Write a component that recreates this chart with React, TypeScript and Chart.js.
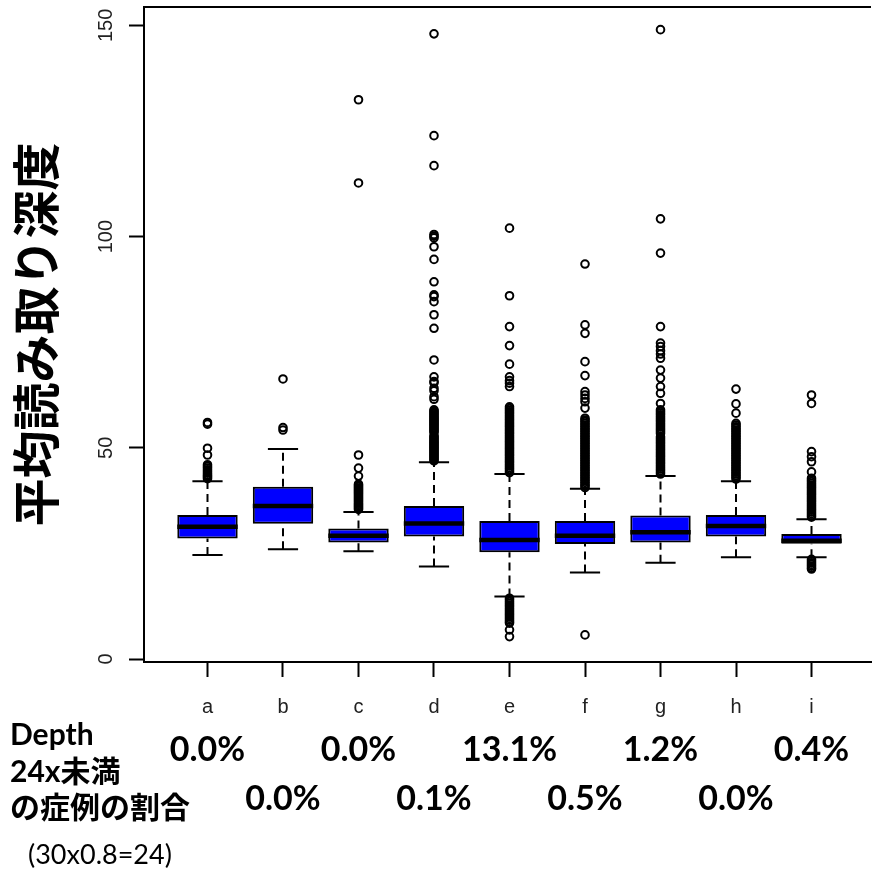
import React, { useEffect, useRef } from 'react';
import { Chart, registerables } from 'chart.js';

Chart.register(...registerables);

const categories = ['a', 'b', 'c', 'd', 'e', 'f', 'g', 'h', 'i'];
const whiskerLow = [24.6, 26.0, 25.5, 21.9, 14.8, 20.5, 22.8, 24.1, 24.1];
const q1 = [28.5, 32.0, 27.6, 29.0, 25.3, 27.2, 27.6, 29.0, 27.3];
const median = [31.3, 36.2, 29.2, 32.1, 28.2, 29.2, 30.0, 31.5, 28.0];
const q3 = [34.1, 40.8, 30.9, 36.2, 32.7, 32.7, 34.0, 34.1, 29.6];
const whiskerHigh = [42.1, 49.7, 34.8, 46.6, 43.8, 40.3, 43.3, 42.1, 33.1];

const outliersA = [56.0, 55.6, 49.9, 48.3, 46.0, 45.6, 45.2, 44.8, 44.4, 44.0, 43.6, 43.3, 43.0, 42.7];
const outliersB = [66.3, 54.8, 54.2];
const outliersC = [132.4, 112.7, 48.3, 45.2, 43.3, 41.4, 41.1, 40.8, 40.5, 40.2, 39.9, 39.6, 39.3, 39.0, 38.7, 38.4, 38.1, 37.8, 37.5, 37.2, 36.9, 36.6, 36.3, 36.0, 35.7, 35.4];
const outliersD = [148.0, 123.9, 116.8, 100.5, 100.1, 99.7, 97.6, 94.6, 89.3, 86.2, 85.8, 84.6, 81.5, 78.3, 70.8, 66.8, 65.7, 65.4, 64.1, 63.5, 62.1, 61.5, 59.0, 58.7, 58.4, 58.1, 57.8, 57.5, 57.2, 56.9, 56.6, 56.3, 56.0, 55.7, 55.4, 55.1, 54.8, 54.5, 54.2, 53.9, 53.6, 52.9, 52.6, 52.3, 52.0, 51.7, 51.4, 51.1, 50.8, 50.5, 50.2, 49.9, 49.6, 49.3, 49.0, 48.7, 48.4, 48.1, 47.8, 47.5, 47.2, 46.9];
const outliersE = [102.0, 86.0, 78.7, 74.2, 69.8, 66.8, 65.9, 65.3, 64.5, 59.7, 59.3, 58.9, 58.5, 58.1, 57.7, 57.3, 56.9, 56.5, 56.1, 55.7, 55.3, 54.9, 54.5, 54.1, 53.7, 53.3, 52.9, 52.5, 52.1, 51.7, 51.3, 50.9, 50.5, 50.1, 49.7, 49.3, 48.9, 48.5, 48.1, 47.7, 47.3, 46.9, 46.5, 46.1, 45.7, 45.3, 44.9, 44.5, 44.1, 14.4, 14.0, 13.6, 13.2, 12.8, 12.4, 12.0, 11.6, 11.2, 10.8, 10.4, 10.0, 9.6, 9.2, 8.8, 8.5, 6.9, 5.3];
const outliersF = [93.5, 79.1, 77.1, 70.4, 67.1, 63.3, 62.5, 61.7, 60.9, 59.4, 57.0, 56.6, 56.2, 55.8, 55.4, 55.0, 54.6, 54.2, 53.8, 53.4, 53.0, 52.6, 52.2, 51.8, 51.4, 51.0, 50.6, 50.2, 49.8, 49.4, 49.0, 48.6, 48.2, 47.8, 47.4, 47.0, 46.6, 46.2, 45.8, 45.4, 45.0, 44.6, 44.2, 43.8, 43.4, 43.0, 42.6, 42.2, 41.8, 41.4, 41.0, 40.6, 5.7];
const outliersG = [149.0, 104.2, 96.1, 78.7, 74.8, 74.0, 73.0, 72.2, 71.2, 68.4, 66.5, 64.5, 62.9, 60.5, 59.0, 58.6, 58.2, 57.8, 57.4, 57.0, 56.6, 56.2, 55.8, 55.4, 55.0, 54.6, 54.2, 53.8, 53.4, 52.6, 52.2, 51.8, 51.4, 51.0, 50.6, 50.2, 49.8, 49.4, 49.0, 48.6, 48.2, 47.8, 47.4, 47.0, 46.6, 46.2, 45.8, 45.4, 45.0, 44.6, 44.2, 43.8];
const outliersH = [63.9, 60.4, 58.2, 55.8, 55.4, 55.0, 54.6, 54.2, 53.8, 53.4, 53.0, 52.6, 52.2, 51.8, 51.4, 51.0, 50.6, 50.2, 49.8, 49.4, 49.0, 48.6, 48.2, 47.8, 47.4, 47.0, 46.6, 46.2, 45.8, 45.4, 45.0, 44.6, 44.2, 43.8, 43.4, 43.0, 42.6];
const outliersI = [62.5, 60.5, 49.1, 47.9, 46.7, 44.3, 42.8, 42.4, 42.0, 41.6, 41.2, 40.8, 40.4, 40.0, 39.6, 39.2, 38.8, 38.4, 38.0, 37.6, 37.2, 36.8, 36.4, 36.0, 35.6, 35.2, 34.8, 34.4, 34.0, 33.6, 23.6, 23.2, 22.8, 22.4, 22.0, 21.6, 21.3];

const yTicks = [0, 50, 100, 150];
const pctBelow24x = ['0.0%', '0.0%', '0.0%', '0.1%', '13.1%', '0.5%', '1.2%', '0.0%', '0.4%'];
const yTitle = '平均読み取り深度';
const noteLines = ['Depth', '24x未満', 'の症例の割合'];
const noteSub = '(30x0.8=24)';

export default function App() {
  const ref = useRef<HTMLCanvasElement>(null);

  useEffect(() => {
    const canvas = ref.current;
    if (!canvas) return;
    const outlierSets = [outliersA, outliersB, outliersC, outliersD, outliersE, outliersF, outliersG, outliersH, outliersI];
    const boxData = categories.map((_, i) => ({ x: i + 1, y: [q1[i], q3[i]] }));
    const pts: { x: number; y: number }[] = [];
    outlierSets.forEach((arr, i) => arr.forEach((v) => pts.push({ x: i + 1, y: v })));

    const decor = {
      id: 'boxDecor',
      beforeDatasetsDraw(chart: any) {
        const { ctx } = chart;
        const xs = chart.scales.x;
        const ys = chart.scales.y;
        ctx.save();
        ctx.strokeStyle = '#000';
        ctx.lineWidth = 2;
        ctx.setLineDash([8, 5]);
        categories.forEach((_, i) => {
          const x = xs.getPixelForValue(i + 1);
          ctx.beginPath();
          ctx.moveTo(x, ys.getPixelForValue(whiskerLow[i]));
          ctx.lineTo(x, ys.getPixelForValue(q1[i]));
          ctx.moveTo(x, ys.getPixelForValue(q3[i]));
          ctx.lineTo(x, ys.getPixelForValue(whiskerHigh[i]));
          ctx.stroke();
        });
        ctx.setLineDash([]);
        categories.forEach((_, i) => {
          const xl = xs.getPixelForValue(i + 1 - 0.2);
          const xr = xs.getPixelForValue(i + 1 + 0.2);
          ctx.beginPath();
          [whiskerLow[i], whiskerHigh[i]].forEach((v) => {
            const y = ys.getPixelForValue(v);
            ctx.moveTo(xl, y);
            ctx.lineTo(xr, y);
          });
          ctx.stroke();
        });
        ctx.restore();
      },
      afterDatasetDraw(chart: any, args: any) {
        if (args.index !== 0) return;
        const { ctx } = chart;
        const xs = chart.scales.x;
        const ys = chart.scales.y;
        ctx.save();
        ctx.strokeStyle = '#000';
        ctx.lineWidth = 4.5;
        categories.forEach((_, i) => {
          const y = ys.getPixelForValue(median[i]);
          ctx.beginPath();
          ctx.moveTo(xs.getPixelForValue(i + 1 - 0.4), y);
          ctx.lineTo(xs.getPixelForValue(i + 1 + 0.4), y);
          ctx.stroke();
        });
        ctx.restore();
      },
      afterDraw(chart: any) {
        const { ctx, chartArea } = chart;
        const xs = chart.scales.x;
        const ys = chart.scales.y;
        ctx.save();
        ctx.strokeStyle = '#000';
        ctx.lineWidth = 2;
        ctx.beginPath();
        ctx.moveTo(chartArea.left - 1, chartArea.top);
        ctx.lineTo(chartArea.right, chartArea.top);
        ctx.stroke();

        ctx.fillStyle = '#222';
        ctx.font = '20px "Liberation Sans", Arial, sans-serif';
        ctx.textAlign = 'center';
        ctx.textBaseline = 'alphabetic';
        yTicks.forEach((v) => {
          const y = ys.getPixelForValue(v);
          ctx.save();
          ctx.translate(112, y);
          ctx.rotate(-Math.PI / 2);
          ctx.fillText(String(v), 0, 0);
          ctx.restore();
        });

        categories.forEach((c, i) => {
          ctx.fillText(c, xs.getPixelForValue(i + 1), 713);
        });

        ctx.fillStyle = '#000';
        ctx.save();
        ctx.translate(36, (chartArea.top + chartArea.bottom) / 2);
        ctx.rotate(-Math.PI / 2);
        ctx.font = 'bold 48px "Noto Sans CJK JP", sans-serif';
        ctx.textAlign = 'center';
        ctx.textBaseline = 'middle';
        ctx.fillText(yTitle, 0, 0);
        ctx.restore();

        ctx.font = 'bold 34px Lato, "Noto Sans", sans-serif';
        ctx.textAlign = 'center';
        ctx.textBaseline = 'alphabetic';
        pctBelow24x.forEach((p, i) => {
          const y = i % 2 === 0 ? 761 : 810;
          ctx.fillText(p, xs.getPixelForValue(i + 1), y);
        });

        ctx.textAlign = 'left';
        ctx.font = 'bold 30px Lato, "Noto Sans CJK JP", sans-serif';
        const baselines = [745, 782, 818];
        noteLines.forEach((t, k) => ctx.fillText(t, 10, baselines[k]));
        ctx.font = '27px Lato, "Noto Sans", sans-serif';
        ctx.fillText(noteSub, 28, 864);
        ctx.restore();
      },
    };

    const chart = new Chart(canvas, {
      type: 'bar',
      data: {
        datasets: [
          {
            type: 'bar',
            data: boxData as any,
            backgroundColor: '#0000ff',
            borderColor: '#000',
            borderWidth: 2,
            borderSkipped: false,
            barPercentage: 1,
            categoryPercentage: 0.8,
            order: 2,
          } as any,
          {
            type: 'scatter',
            data: pts,
            showLine: false,
            pointStyle: 'circle',
            pointRadius: 3.8,
            pointBorderWidth: 2,
            pointBorderColor: '#000',
            borderColor: '#000',
            pointBackgroundColor: 'rgba(0,0,0,0)',
            backgroundColor: 'rgba(0,0,0,0)',
            order: 1,
          } as any,
        ],
      },
      options: {
        responsive: false,
        animation: false,
        devicePixelRatio: 1,
        events: [],
        layout: { padding: { left: 0, top: 7, right: 0, bottom: 170 } },
        plugins: { legend: { display: false }, tooltip: { enabled: false } },
        scales: {
          x: {
            type: 'linear',
            min: 0.159,
            max: 9.788,
            offset: false,
            bounds: 'data',
            afterBuildTicks: (s: any) => {
              s.ticks = categories.map((_, i) => ({ value: i + 1 }));
            },
            afterFit: (s: any) => {
              s.height = 40;
            },
            ticks: { display: false },
            grid: { display: true, drawOnChartArea: false, drawTicks: true, tickLength: 15, tickWidth: 2, tickColor: '#000', offset: false },
            border: { display: true, color: '#000', width: 2 },
          },
          y: {
            type: 'linear',
            min: -0.71,
            max: 154.36,
            bounds: 'data',
            afterBuildTicks: (s: any) => {
              s.ticks = yTicks.map((v) => ({ value: v }));
            },
            afterFit: (s: any) => {
              s.width = 144;
            },
            ticks: { display: false },
            grid: { display: true, drawOnChartArea: false, drawTicks: true, tickLength: 15, tickWidth: 2, tickColor: '#000' },
            border: { display: true, color: '#000', width: 2 },
          },
        },
      } as any,
      plugins: [decor],
    });
    return () => chart.destroy();
  }, []);

  return (
    <div style={{ position: 'fixed', left: 0, top: 0, width: 877, height: 872, background: '#fff' }}>
      <canvas ref={ref} width={877} height={872} style={{ display: 'block', width: 877, height: 872 }} />
    </div>
  );
}
